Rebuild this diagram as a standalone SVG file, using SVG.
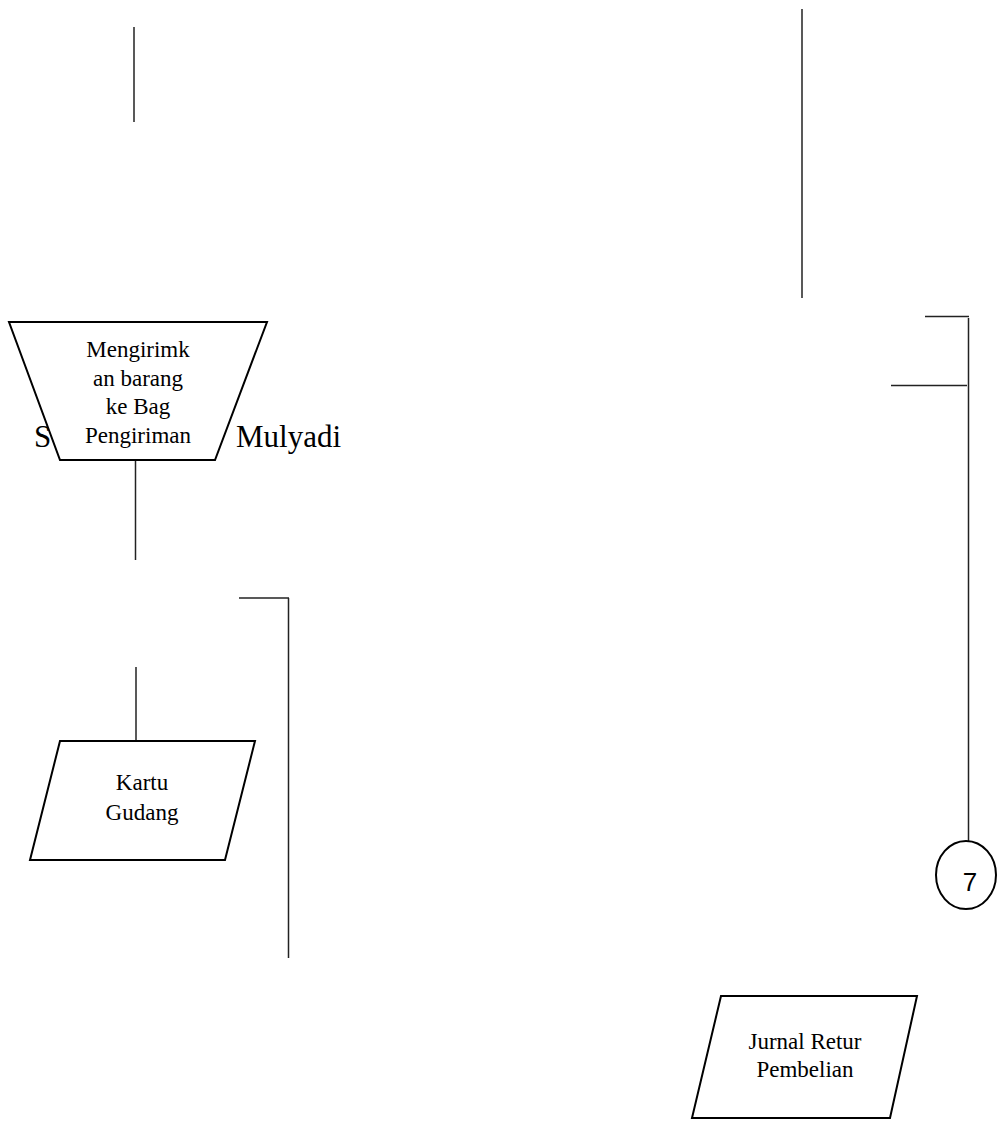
<svg xmlns="http://www.w3.org/2000/svg" width="1001" height="1124" viewBox="0 0 1001 1124">
  <style>
    .ln { stroke: #222; stroke-width: 1.5; fill: none; }
    .shape { stroke: #000; stroke-width: 2; fill: #fff; }
    .lbl { font-family: "Liberation Serif", "Times New Roman", serif; font-size: 23px; fill: #000; text-anchor: middle; }
    .big { font-family: "Liberation Serif", "Times New Roman", serif; font-size: 31px; fill: #000; }
    .num { font-family: "Liberation Sans", Arial, sans-serif; font-size: 26px; fill: #000; text-anchor: middle; }
  </style>
  <rect width="1001" height="1124" fill="#fff"/>
  <g id="caption">
    <text class="big" x="34" y="447">S</text>
    <text class="big" x="236" y="447">Mulyadi</text>
  </g>
  <g id="connectors">
    <line class="ln" x1="134" y1="27" x2="134" y2="122"/>
    <line class="ln" x1="802" y1="9" x2="802" y2="298"/>
    <line class="ln" x1="135.5" y1="460" x2="135.5" y2="560"/>
    <line class="ln" x1="136" y1="667" x2="136" y2="741"/>
    <line class="ln" x1="239" y1="598" x2="289" y2="598"/>
    <line class="ln" x1="288.5" y1="598" x2="288.5" y2="958"/>
    <line class="ln" x1="925" y1="316.5" x2="969" y2="316.5"/>
    <line class="ln" x1="968.5" y1="318" x2="968.5" y2="842"/>
    <line class="ln" x1="891" y1="385.5" x2="967" y2="385.5"/>
  </g>
  <g id="node-mengirimkan">
    <polygon class="shape" points="9,322 267,322 215,460 60,460"/>
    <text class="lbl" x="138" y="357">Mengirimk</text>
    <text class="lbl" x="138" y="386">an barang</text>
    <text class="lbl" x="138" y="414">ke Bag</text>
    <text class="lbl" x="138" y="443">Pengiriman</text>
  </g>
  <g id="node-kartu-gudang">
    <polygon class="shape" points="60,741 255,741 225,860 30,860"/>
    <text class="lbl" x="142" y="790">Kartu</text>
    <text class="lbl" x="142" y="820">Gudang</text>
  </g>
  <g id="node-connector-7">
    <ellipse class="shape" cx="966" cy="875" rx="30" ry="34"/>
    <text class="num" x="970" y="891">7</text>
  </g>
  <g id="node-jurnal-retur">
    <polygon class="shape" points="721,996 917,996 890,1118 692,1118"/>
    <text class="lbl" x="805" y="1049">Jurnal Retur</text>
    <text class="lbl" x="805" y="1077">Pembelian</text>
  </g>
</svg>
